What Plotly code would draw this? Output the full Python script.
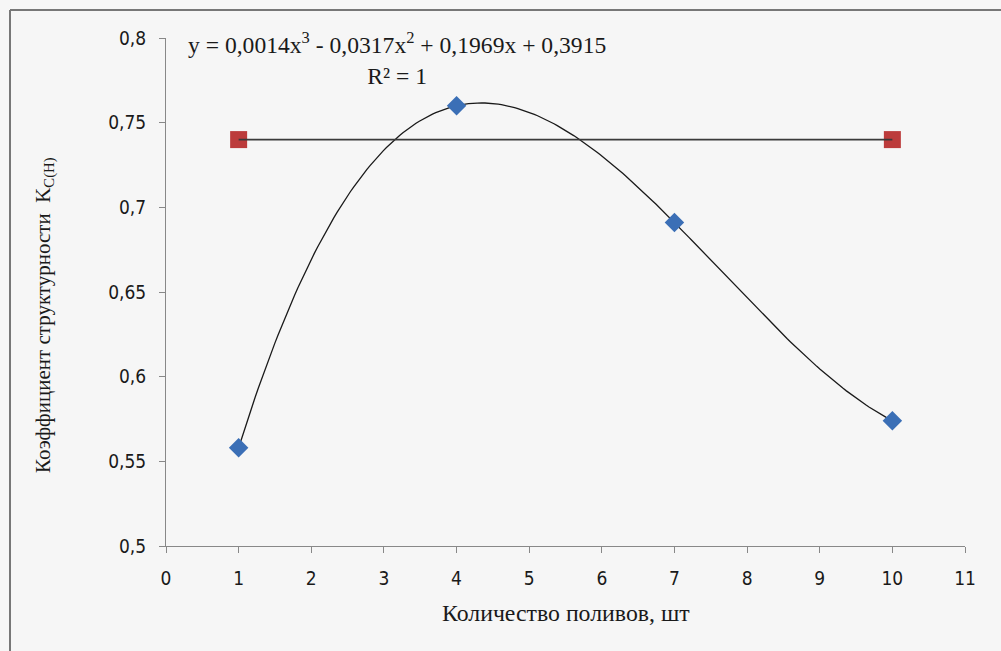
import numpy as np
import plotly.graph_objects as go

# Data
watering_counts = [1, 4, 7, 10]
structure_coef = [0.558, 0.760, 0.691, 0.574]
reference_x = [1, 10]
reference_y = [0.74, 0.74]
x_ticks = list(range(0, 12))
y_ticks = [0.5, 0.55, 0.6, 0.65, 0.7, 0.75, 0.8]
y_tick_labels = ["0,5", "0,55", "0,6", "0,65", "0,7", "0,75", "0,8"]

# Cubic trendline fitted to the data (as in the spreadsheet trendline)
coefs = np.polyfit(watering_counts, structure_coef, 3)
tx = np.linspace(min(watering_counts), max(watering_counts), 200)
ty = np.polyval(coefs, tx)

W, H = 1001, 651
L, T = 166, 38
R = W - 965
B = H - 546
pw, ph = W - L - R, H - T - B

def px(xp):
    return (xp - L) / pw

def py(yp):
    return (H - B - yp) / ph

BG = "#f6f6f6"
fig = go.Figure()

fig.add_trace(go.Scatter(x=tx, y=ty, mode="lines",
                         line=dict(color="#1a1a1a", width=1.3),
                         showlegend=False, hoverinfo="skip"))
fig.add_trace(go.Scatter(x=reference_x, y=reference_y, mode="markers",
                         marker=dict(symbol="square", size=17, color="#bc3b3b",
                                     line=dict(width=0)),
                         showlegend=False))
fig.add_trace(go.Scatter(x=reference_x, y=reference_y, mode="lines",
                         line=dict(color="#3a3a3a", width=1.6),
                         showlegend=False, hoverinfo="skip"))
fig.add_trace(go.Scatter(x=watering_counts, y=structure_coef, mode="markers",
                         marker=dict(symbol="diamond", size=15, color="#3b6fb6",
                                     line=dict(width=0)),
                         showlegend=False))

tick_font = dict(family="Liberation Sans Narrow, DejaVu Sans Condensed, Liberation Sans",
                 size=19, color="#1a1a1a")
fig.update_xaxes(range=[0, 11], tickvals=x_ticks, ticks="outside", ticklen=6,
                 tickcolor="#888888", showline=True, linecolor="#888888", linewidth=1,
                 showgrid=False, zeroline=False, tickfont=tick_font, fixedrange=True,
                 ticklabelstandoff=9)
fig.update_yaxes(range=[0.5, 0.8], tickvals=y_ticks, ticktext=y_tick_labels,
                 ticks="outside", ticklen=6, tickcolor="#888888", showline=True,
                 linecolor="#888888", linewidth=1, showgrid=False, zeroline=False,
                 tickfont=tick_font, fixedrange=True, ticklabelstandoff=9)

serif = "Liberation Serif, Times New Roman, serif"
fig.add_annotation(xref="paper", yref="paper", x=px(566), y=py(613),
                   xanchor="center", yanchor="middle",
                   text="Количество поливов, шт", showarrow=False,
                   font=dict(family=serif, size=23.8, color="#1a1a1a"))
fig.add_annotation(xref="paper", yref="paper", x=px(45), y=py(315),
                   xanchor="center", yanchor="middle",
                   text="Коэффициент структурности  K<sub>C(H)</sub>", textangle=-90,
                   showarrow=False, font=dict(family=serif, size=21, color="#1a1a1a"))
fig.add_annotation(xref="paper", yref="paper", x=px(397), y=py(58),
                   xanchor="center", yanchor="middle",
                   text="y = 0,0014x<sup>3</sup> - 0,0317x<sup>2</sup> + 0,1969x + 0,3915<br>R² = 1",
                   showarrow=False, align="center",
                   font=dict(family=serif, size=23.6, color="#1a1a1a"))

# outer frame (top and left visible)
fig.add_shape(type="line", xref="paper", yref="paper", x0=px(10), x1=px(1010),
              y0=py(10), y1=py(10), line=dict(color="#777777", width=2))
fig.add_shape(type="line", xref="paper", yref="paper", x0=px(10), x1=px(10),
              y0=py(10), y1=py(660), line=dict(color="#777777", width=2))

fig.update_layout(width=W, height=H, margin=dict(l=L, r=R, t=T, b=B),
                  paper_bgcolor=BG, plot_bgcolor=BG, showlegend=False)

fig.write_html("out.html", config={"displayModeBar": False},
               post_script="document.body.style.margin='0';"
                           "document.body.style.overflow='hidden';"
                           "document.body.style.background='" + BG + "';")
